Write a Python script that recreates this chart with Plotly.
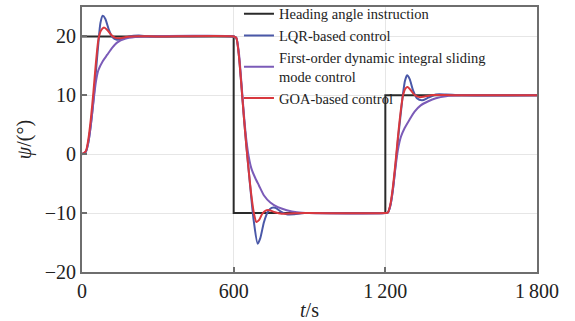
import plotly.graph_objects as go

# Heading angle instruction (step signal)
t_cmd = [0, 600, 1200, 1800]
psi_cmd = [20, -10, 10, 10]

# LQR-based control
t_lqr = [0, 15, 25, 35, 45, 55, 65, 73, 82, 92, 105, 120, 138, 160, 190, 225, 270, 600,
         610, 620, 630, 640, 650, 660, 670, 680, 695, 705, 720, 735, 750, 765, 785, 810, 840, 880, 1200,
         1210, 1220, 1230, 1240, 1250, 1260, 1270, 1278, 1286, 1296, 1310, 1325, 1345, 1370, 1400, 1440, 1500, 1800]
psi_lqr = [0, 0.4, 2, 5, 9, 14, 19, 22.3, 23.5, 23, 21.3, 19.9, 19.45, 19.6, 20.05, 20.15, 20, 20,
           19.8, 17, 12, 6.5, 1.5, -3, -7.5, -11.5, -15.2, -14.3, -11.5, -9.8, -9.1, -9.1, -9.7, -10.2, -10.2, -10, -10,
           -9.9, -8.7, -6, -2, 2.5, 6.5, 10.3, 12.5, 13.4, 12.8, 10.8, 9.5, 9.15, 9.6, 10.15, 10.15, 10, 10]

# First-order dynamic integral sliding mode control
t_smc = [0, 15, 25, 35, 45, 55, 65, 82, 100, 120, 140, 170, 210, 260, 600,
         610, 620, 630, 640, 650, 660, 670, 685, 700, 720, 745, 775, 810, 850, 900, 1200,
         1210, 1220, 1230, 1240, 1250, 1262, 1276, 1295, 1315, 1340, 1370, 1400, 1440, 1500, 1800]
psi_smc = [0, 0.4, 2, 5, 8.8, 12.3, 14.3, 15.8, 16.9, 18.1, 19.0, 19.6, 19.9, 20, 20,
           19.8, 17.5, 12.5, 7, 2.5, -0.5, -2.4, -4, -5.3, -7, -8.2, -9, -9.5, -9.85, -10, -10,
           -9.9, -8.7, -6, -2.3, 0.8, 3, 4.4, 5.8, 7.2, 8.3, 9.0, 9.5, 9.85, 10, 10]

# GOA-based control
t_goa = [0, 15, 25, 35, 45, 55, 65, 75, 87, 100, 115, 130, 150, 180, 220, 300, 600,
         610, 620, 630, 640, 650, 660, 670, 680, 690, 700, 712, 725, 740, 760, 790, 830, 880, 1200,
         1210, 1220, 1230, 1240, 1250, 1260, 1270, 1280, 1288, 1300, 1315, 1335, 1355, 1390, 1430, 1500, 1800]
psi_goa = [0, 0.5, 2.5, 6, 10.5, 15.5, 19.5, 21, 21.5, 21.1, 20.3, 19.8, 19.7, 19.95, 20.05, 20, 20,
           19.8, 17, 12, 6.5, 1.5, -3, -7, -10, -11.5, -11.2, -10.2, -9.6, -9.5, -9.8, -10.1, -10.05, -10, -10,
           -9.9, -8.5, -5.5, -1.5, 3, 7, 10, 11.2, 11.4, 10.9, 10.1, 9.7, 9.8, 10.05, 10.05, 10, 10]

x_tickvals = [0, 600, 1200, 1800]
x_ticktext = ["0", "600", "1\u2009200", "1\u2009800"]
y_tickvals = [-20, -10, 0, 10, 20]

FONT = "Liberation Serif, Times New Roman, serif"

fig = go.Figure()
fig.add_trace(go.Scatter(x=t_cmd, y=psi_cmd, mode="lines", line=dict(color="#2a2a2a", width=2, shape="hv"),
                         name="Heading angle instruction"))
fig.add_trace(go.Scatter(x=t_lqr, y=psi_lqr, mode="lines", line=dict(color="#4a58a8", width=2, shape="spline", smoothing=0.7),
                         name="LQR-based control"))
fig.add_trace(go.Scatter(x=t_smc, y=psi_smc, mode="lines", line=dict(color="#7b5bb8", width=2, shape="spline", smoothing=0.7),
                         name="First-order dynamic integral sliding<br>mode control"))
fig.add_trace(go.Scatter(x=t_goa, y=psi_goa, mode="lines", line=dict(color="#d8383e", width=2, shape="spline", smoothing=0.7),
                         name="GOA-based control"))

fig.update_layout(
    width=575, height=321,
    margin=dict(l=82, r=38, t=7, b=49, autoexpand=False),
    paper_bgcolor="white", plot_bgcolor="white",
    font=dict(family=FONT, size=20, color="#222"),
    showlegend=True,
    legend=dict(x=0.345, y=1.035, xanchor="left", yanchor="top", bgcolor="rgba(255,255,255,0)",
                font=dict(family=FONT, size=14.5, color="#222"), itemwidth=30, tracegroupgap=0,
                borderwidth=0),
    xaxis=dict(range=[0, 1800], tickvals=x_tickvals, ticktext=x_ticktext, automargin=False,
               showgrid=True, gridcolor="#e6e6e6", gridwidth=1, zeroline=False,
               showline=True, linecolor="#6e6e6e", linewidth=2, mirror=True,
               ticks="inside", ticklen=5, tickcolor="#6e6e6e", tickwidth=1.5,
               tickfont=dict(family=FONT, size=20),
               title=dict(text="<i>t</i>/s", font=dict(family=FONT, size=20), standoff=6)),
    yaxis=dict(range=[-20, 25], tickvals=y_tickvals, automargin=False,
               showgrid=True, gridcolor="#e6e6e6", gridwidth=1, zeroline=False,
               showline=True, linecolor="#6e6e6e", linewidth=2, mirror=True,
               ticks="inside", ticklen=5, tickcolor="#6e6e6e", tickwidth=1.5,
               tickfont=dict(family=FONT, size=20),
               title=dict(text="<i>ψ</i>/(°)", font=dict(family=FONT, size=20), standoff=8)),
)

fig.write_html("out.html")
